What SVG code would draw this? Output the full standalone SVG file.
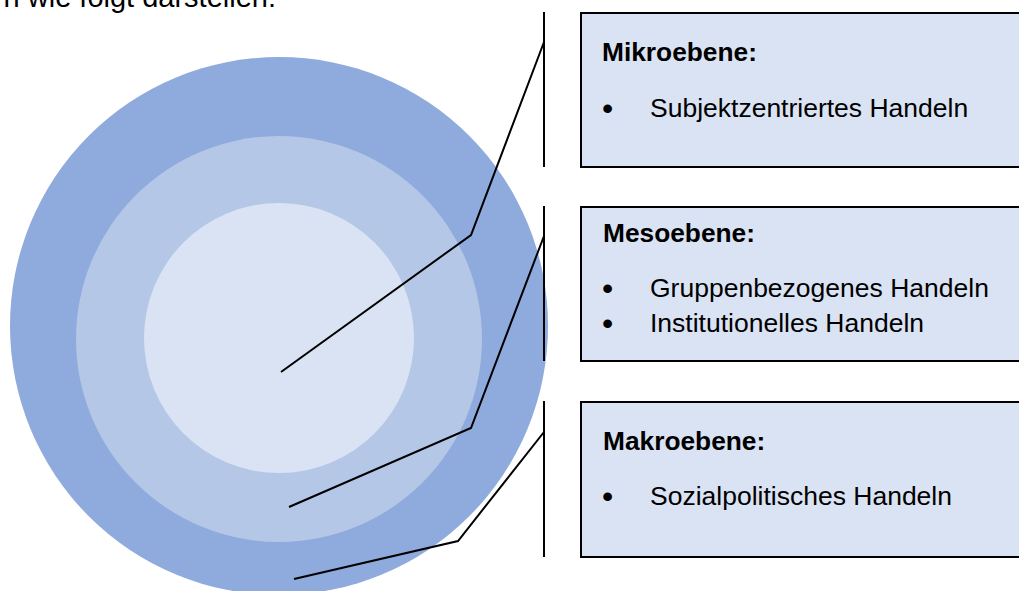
<svg xmlns="http://www.w3.org/2000/svg" width="1019" height="591" viewBox="0 0 1019 591">
<style>
text{font-family:"Liberation Sans",Arial,sans-serif;font-size:26.5px;fill:#000}
.h{font-weight:bold;font-size:26.3px}
.b{font-size:32px}
.top{font-size:29px}
.box{fill:#dae3f3;stroke:#000;stroke-width:2}
.con{fill:none;stroke:#000;stroke-width:2}
</style>
<rect width="1019" height="591" fill="#fff"/>
<text class="top" x="276" y="7" text-anchor="end">n wie folgt darstellen:</text>
<g id="rings">
<circle id="makro-ring" cx="279" cy="326" r="269" fill="#8faadc"/>
<circle id="meso-ring" cx="279" cy="339" r="203" fill="#b4c7e7"/>
<circle id="mikro-ring" cx="279" cy="338" r="135" fill="#dae3f3"/>
</g>
<g id="connectors" class="con">
<polyline class="con" points="281,372 471,235 544,42"/>
<line class="con" x1="544" y1="12" x2="544" y2="167"/>
<polyline class="con" points="289,507 471,428 544,236"/>
<line class="con" x1="544" y1="206" x2="544" y2="361"/>
<polyline class="con" points="294,579 458,541 544,432"/>
<line class="con" x1="544" y1="401" x2="544" y2="557"/>
</g>
<g id="mikro">
<rect class="box" x="581" y="13" width="446" height="154"/>
<text class="h" x="602" y="61">Mikroebene:</text>
<text class="b" x="602" y="119">•</text>
<text x="650" y="117">Subjektzentriertes Handeln</text>
</g>
<g id="meso">
<rect class="box" x="581" y="207" width="446" height="154"/>
<text class="h" x="603" y="242">Mesoebene:</text>
<text class="b" x="602" y="299">•</text>
<text x="650" y="297">Gruppenbezogenes Handeln</text>
<text class="b" x="602" y="334">•</text>
<text x="650" y="332">Institutionelles Handeln</text>
</g>
<g id="makro">
<rect class="box" x="581" y="402" width="446" height="155"/>
<text class="h" x="603" y="450">Makroebene:</text>
<text class="b" x="602" y="507">•</text>
<text x="650" y="505">Sozialpolitisches Handeln</text>
</g>
</svg>
